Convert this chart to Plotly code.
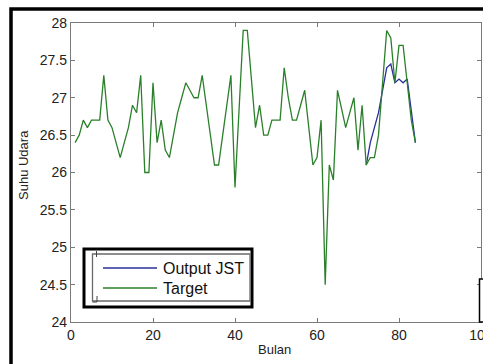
import plotly.graph_objects as go

# ---- data ----
bulan_target = list(range(1, 85))
suhu_target = [26.4, 26.5, 26.7, 26.6, 26.7, 26.7, 26.7, 27.3, 26.7, 26.6,
               26.4, 26.2, 26.4, 26.6, 26.9, 26.8, 27.3, 26.0, 26.0, 27.2,
               26.4, 26.7, 26.3, 26.2, 26.5, 26.8, 27.0, 27.2, 27.1, 27.0,
               27.0, 27.3, 26.9, 26.5, 26.1, 26.1, 26.5, 26.9, 27.3, 25.8,
               26.8, 27.9, 27.9, 27.2, 26.6, 26.9, 26.5, 26.5, 26.7, 26.7,
               26.7, 27.4, 27.0, 26.7, 26.7, 26.9, 27.1, 26.6, 26.1, 26.2,
               26.7, 24.5, 26.1, 25.9, 27.1, 26.85, 26.6, 26.8, 27.0, 26.3,
               26.9, 26.1, 26.2, 26.2, 26.5, 27.2, 27.9, 27.8, 27.2, 27.7,
               27.7, 27.2, 26.7, 26.4]
bulan_output = list(range(72, 85))
suhu_output = [26.1, 26.4, 26.6, 26.8, 27.1, 27.4, 27.45, 27.2, 27.25, 27.2,
               27.25, 26.8, 26.4]
x_ticks = [0, 20, 40, 60, 80, 100]
y_ticks = [24, 24.5, 25, 25.5, 26, 26.5, 27, 27.5, 28]
name_output = "Output JST"
name_target = "Target"
x_title = "Bulan"
y_title = "Suhu Udara"

# ---- styles ----
BLUE = "#2a2f9a"
GREEN = "#2a802a"
W, H = 483, 364
L, R, T, B = 71, 2, 23, 42
PW, PH = W - L - R, H - T - B

def px(x):
    return (x - L) / PW

def py(y):
    return 1 - (y - T) / PH

fig = go.Figure()
fig.add_trace(go.Scatter(x=bulan_output, y=suhu_output, mode="lines", name=name_output,
                         line=dict(color=BLUE, width=1.3), showlegend=False))
fig.add_trace(go.Scatter(x=bulan_target, y=suhu_target, mode="lines", name=name_target,
                         line=dict(color=GREEN, width=1.3), showlegend=False))

axis_common = dict(showgrid=False, zeroline=False, showline=True, linecolor="#7a7a7a",
                   linewidth=1.3, mirror="ticks", ticks="inside", ticklen=4,
                   tickcolor="#7a7a7a", ticklabeloverflow="allow", automargin=False,
                   tickfont=dict(family="Liberation Sans, Arial", size=14, color="#222"))
fig.update_xaxes(range=[0, 100], tickvals=x_ticks, ticktext=[str(v) for v in x_ticks], **axis_common)
fig.update_yaxes(range=[24, 28], tickvals=y_ticks,
                 ticktext=[("%g" % v) for v in y_ticks], **axis_common)

shapes = []
# outer black frame (image border)
shapes.append(dict(type="path", xref="paper", yref="paper",
                   path=f"M {px(11)} {py(370)} L {px(11)} {py(9)} L {px(490)} {py(9)}",
                   line=dict(color="black", width=3.5)))
# stray box at bottom right
shapes.append(dict(type="rect", xref="paper", yref="paper",
                   x0=px(479.5), x1=px(495), y0=py(279), y1=py(322),
                   line=dict(color="black", width=1.5), fillcolor="white"))
# legend: outer thick box
shapes.append(dict(type="rect", xref="paper", yref="paper",
                   x0=px(84), x1=px(252), y0=py(249), y1=py(307),
                   line=dict(color="black", width=3), fillcolor="white"))
# inner grey box
shapes.append(dict(type="rect", xref="paper", yref="paper",
                   x0=px(92.5), x1=px(250), y0=py(254), y1=py(301),
                   line=dict(color="#6a6a6a", width=1.3)))
# small bracket artifact
shapes.append(dict(type="path", xref="paper", yref="paper",
                   path=f"M {px(96.5)} {py(251)} L {px(96.5)} {py(257)} M {px(92.5)} {py(302)} L {px(97)} {py(302)} L {px(97)} {py(296)}",
                   line=dict(color="#444", width=1)))
# legend sample lines
shapes.append(dict(type="line", xref="paper", yref="paper",
                   x0=px(103), x1=px(157), y0=py(268), y1=py(268),
                   line=dict(color=BLUE, width=1.3)))
shapes.append(dict(type="line", xref="paper", yref="paper",
                   x0=px(103), x1=px(157), y0=py(288), y1=py(288),
                   line=dict(color=GREEN, width=1.3)))

font_txt = dict(family="Liberation Sans, Arial", size=16, color="#111")
annotations = [
    dict(text=name_output, xref="paper", yref="paper", x=px(161), y=py(268),
         xanchor="left", yanchor="middle", showarrow=False, font=font_txt),
    dict(text=name_target, xref="paper", yref="paper", x=px(161), y=py(288),
         xanchor="left", yanchor="middle", showarrow=False, font=font_txt),
    dict(text=x_title, xref="paper", yref="paper", x=px(274), y=py(349),
         xanchor="center", yanchor="middle", showarrow=False,
         font=dict(family="Liberation Sans, Arial", size=13, color="#222")),
    dict(text=y_title, xref="paper", yref="paper", x=px(23), y=py(165),
         xanchor="center", yanchor="middle", showarrow=False, textangle=-90,
         font=dict(family="Liberation Sans, Arial", size=13, color="#222")),
]

fig.update_layout(width=W, height=H, margin=dict(l=L, r=R, t=T, b=B, pad=0, autoexpand=False),
                  paper_bgcolor="white", plot_bgcolor="white",
                  shapes=shapes, annotations=annotations, showlegend=False)

fig.write_html("out.html", config={"displayModeBar": False},
               post_script="document.body.style.margin='0';document.body.style.overflow='hidden';")
